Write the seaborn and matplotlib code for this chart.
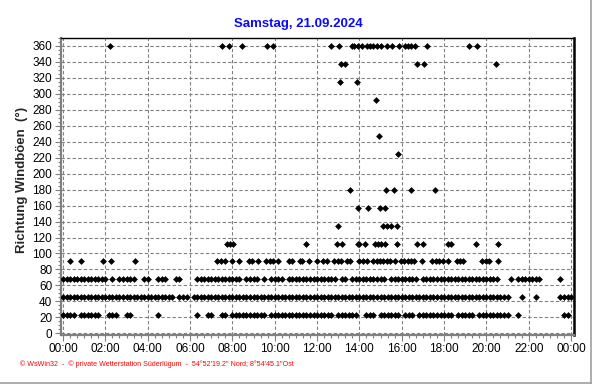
import numpy as np
import pandas as pd
import seaborn as sns
import matplotlib.pyplot as plt
from matplotlib.ticker import MultipleLocator, FuncFormatter
from matplotlib.lines import Line2D

# ============================
# DATA (wind gust direction, degrees)
# ============================
# dense rows: one char per 10-minute slot, '#' = reading, blocks of 2 hours
row_225 = ("####.######. .###..##.... ...#........ ..#..##..##. "
           "##########.# ############ #####.###### ..###.###### "
           ".###.####### ###.#####.## #######..#.. ..........##")
row_450 = ("############ ############ ########.### .########### "
           "############ ############ ############ ############ "
           "############ ############ #######...#. ..#......### #")
row_675 = ("############ #.#.#####..# #..###..##.. ..########## "
           "###.####.#.# ###.######## ######.##.## ########.### "
           "#####.###### ############ ####...#.### ####.....#..")

# sparse rows: time of reading in hours
hours_900 = [0.33, 0.85, 1.89, 2.27, 3.40,
             7.29, 7.46, 7.65, 7.97, 8.31, 8.80, 8.91, 9.23, 9.60, 9.78, 9.94,
             10.14, 10.68, 10.83, 11.20, 11.30, 11.62, 11.98,
             12.30, 12.46, 12.82, 12.97, 13.13, 13.43, 13.56, 14.00, 14.19, 14.35,
             14.66, 14.82, 14.97, 15.13, 15.29, 15.45, 15.68, 15.97, 16.12, 16.28,
             16.44, 16.60, 16.94, 17.45, 17.61, 17.76, 17.97, 18.17,
             18.60, 18.75, 18.91, 19.81, 19.97, 20.12, 20.56]
hours_1125 = [7.75, 7.90, 8.05, 11.48, 12.94, 13.16, 13.92, 13.98, 14.28, 14.74,
              14.86, 15.00, 15.22, 15.78, 16.74, 17.02, 18.17, 18.31, 19.49, 20.56]
hours_1350 = [12.97, 15.13, 15.30, 15.49, 15.79]
hours_1575 = [13.95, 14.42, 14.97, 15.22]
hours_1800 = [13.57, 15.27, 15.65, 16.45, 17.59]
hours_2250 = [15.84]
hours_2475 = [14.94]
hours_2925 = [14.80]
hours_3150 = [13.10, 13.90]
hours_3375 = [13.12, 13.34, 16.74, 17.05, 20.47]
hours_3600 = [2.22, 7.53, 7.86, 8.44, 9.62, 9.94, 12.67, 13.05, 13.63, 13.75,
              13.95, 14.11, 14.37, 14.48, 14.66, 14.83, 15.00, 15.32, 15.55,
              15.87, 16.17, 16.28, 16.42, 16.65, 17.21, 19.19, 19.57]


def slot_hours(mask):
    mask = mask.replace(" ", "")
    return [i / 6 for i, c in enumerate(mask) if c == "#"]


rows = [(22.5, slot_hours(row_225)), (45.0, slot_hours(row_450)),
        (67.5, slot_hours(row_675)), (90.0, hours_900), (112.5, hours_1125),
        (135.0, hours_1350), (157.5, hours_1575), (180.0, hours_1800),
        (225.0, hours_2250), (247.5, hours_2475), (292.5, hours_2925),
        (315.0, hours_3150), (337.5, hours_3375), (360.0, hours_3600)]

df = pd.DataFrame([(h, d) for d, hs in rows for h in hs], columns=["hour", "dir"])

# ============================
# PLOT
# ============================
sns.set_style("white")
plt.rcParams['font.family'] = ['Liberation Sans', 'DejaVu Sans']

fig = plt.figure(figsize=(5.92, 3.84), dpi=100)
W, H = 592, 384
ax = fig.add_axes([60.5 / W, 1 - 334.5 / H, (574 - 60.5) / W, (334.5 - 38) / H])

sns.scatterplot(data=df, x="hour", y="dir", marker="D", s=12, color="black",
                linewidth=0, ax=ax, legend=False, zorder=3)

ax.set_xlim(-0.12, 24.14)
ax.set_ylim(-1.5, 370)
ax.xaxis.set_major_locator(MultipleLocator(2))
ax.xaxis.set_minor_locator(MultipleLocator(1 / 3))
ax.xaxis.set_major_formatter(FuncFormatter(lambda v, p: f"{int(round(v)) % 24:02d}:00"))
ax.yaxis.set_major_locator(MultipleLocator(20))
ax.yaxis.set_minor_locator(MultipleLocator(5))

ax.grid(True, which="major", color="#808080", linestyle=(0, (3, 2)), linewidth=0.8)
ax.set_axisbelow(True)

for side in ["left", "bottom"]:
    ax.spines[side].set_color("#808080")
    ax.spines[side].set_linewidth(1.6)
ax.spines["top"].set_color("black")
ax.spines["top"].set_linewidth(1.0)
ax.spines["right"].set_color("black")
ax.spines["right"].set_linewidth(1.8)

ax.tick_params(axis="both", which="major", direction="out", length=4, width=0.8,
               color="#808080", labelsize=8.5, labelcolor="black", pad=2,
               left=True, bottom=True)
ax.tick_params(axis="both", which="minor", direction="out", length=2, width=0.8,
               color="#808080", left=True, bottom=True)

ax.set_xlabel("")
ax.set_ylabel("Richtung Windböen  (°)", fontsize=9.5, fontweight="bold")
ax.yaxis.set_label_coords(-0.063, 0.52)

fig.text(298 / W, 1 - 24 / H, "Samstag, 21.09.2024", color="#0a0aff",
         fontsize=9.5, fontweight="bold", ha="center", va="center")
fig.text(20 / W, 1 - 364 / H,
         "\u00a9 WsWin32  -  \u00a9 private Wetterstation Süderlügum  -  "
         "54°52'19.2\" Nord; 8°54'45.1\"Ost",
         color="red", fontsize=5.1, ha="left", va="center")

fig.add_artist(Line2D([590.5 / W, 590.5 / W], [0, 1], color="#a0a0a0", lw=1.2))
fig.add_artist(Line2D([0, 1], [1 - 383 / H, 1 - 383 / H], color="#a0a0a0", lw=1.2))

fig.savefig("out.png", dpi=100)
